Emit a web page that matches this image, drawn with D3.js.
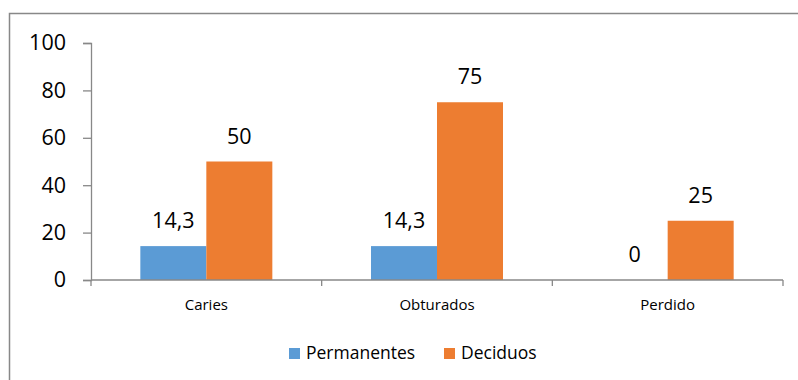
<!DOCTYPE html>
<html>
<head>
<meta charset="utf-8">
<script src="https://cdn.jsdelivr.net/npm/d3@7"></script>
<style>
  html, body { margin: 0; padding: 0; background: #fff; }
  svg { display: block; }
</style>
</head>
<body>
<svg id="chart" width="798" height="380"></svg>
<script>
// Dientes: porcentajes por categoría
const categories = ["Caries", "Obturados", "Perdido"];
const seriesNames = ["Permanentes", "Deciduos"];
const permanentes = [14.3, 14.3, 0];
const deciduos = [50, 75, 25];
const yTicks = [0, 20, 40, 60, 80, 100];

const colors = { Permanentes: "#5B9BD5", Deciduos: "#ED7D31" };
const font = "'Open Sans', 'Liberation Sans', sans-serif";

const svg = d3.select("#chart");

// Outer frame (extends past the right and bottom edges)
svg.append("rect")
  .attr("x", 9.5).attr("y", 13.5)
  .attr("width", 820).attr("height", 400)
  .attr("fill", "#fff").attr("stroke", "#888").attr("stroke-width", 1.5);

const plot = { left: 91, right: 783, top: 43, bottom: 280 };

const x0 = d3.scaleBand().domain(categories).range([plot.left, plot.right]).paddingInner(0).paddingOuter(0);
const x1 = d3.scaleBand().domain(seriesNames).range([0, 132]);
const y = d3.scaleLinear().domain([0, 100]).range([plot.bottom, plot.top]);

const rows = categories.map((c, i) => ({
  cat: c,
  values: [
    { name: "Permanentes", v: permanentes[i] },
    { name: "Deciduos", v: deciduos[i] }
  ]
}));

// Y axis
const yAxis = svg.append("g").attr("transform", `translate(${plot.left},0)`)
  .call(d3.axisLeft(y).tickValues(yTicks).tickSize(8).tickPadding(17).tickFormat(d3.format("d")));
yAxis.select(".domain").attr("stroke", "#888").attr("stroke-width", 1.3);
yAxis.selectAll(".tick line").attr("stroke", "#888").attr("stroke-width", 1.3);
yAxis.selectAll(".tick text").attr("font-family", font).attr("font-size", 21.5).attr("fill", "#000");

// Bars
const groups = svg.append("g").selectAll("g").data(rows).join("g")
  .attr("transform", d => `translate(${x0(d.cat) + x0.bandwidth() / 2 - 66},0)`);

groups.selectAll("rect").data(d => d.values).join("rect")
  .attr("x", d => x1(d.name))
  .attr("y", d => y(d.v))
  .attr("width", x1.bandwidth())
  .attr("height", d => y(0) - y(d.v))
  .attr("fill", d => colors[d.name]);

groups.selectAll("text").data(d => d.values).join("text")
  .attr("x", d => x1(d.name) + x1.bandwidth() / 2)
  .attr("y", d => y(d.v) - 18)
  .attr("text-anchor", "middle")
  .attr("font-family", font).attr("font-size", 21.5).attr("fill", "#000")
  .text(d => String(d.v).replace(".", ","));

// X axis
const xAxis = svg.append("g").attr("transform", `translate(0,${plot.bottom})`);
xAxis.append("line").attr("x1", plot.left).attr("x2", plot.right)
  .attr("stroke", "#888").attr("stroke-width", 1.3);
const bounds = [plot.left].concat(categories.map(c => x0(c) + x0.bandwidth()));
xAxis.selectAll(".xt").data(bounds).join("line")
  .attr("x1", d => d).attr("x2", d => d).attr("y1", 0).attr("y2", 6)
  .attr("stroke", "#888").attr("stroke-width", 1.3);
xAxis.selectAll(".xl").data(categories).join("text")
  .attr("x", d => x0(d) + x0.bandwidth() / 2)
  .attr("y", 30)
  .attr("text-anchor", "middle")
  .attr("font-family", font).attr("font-size", 15).attr("fill", "#000")
  .text(d => d);

// Legend
const legend = svg.append("g").attr("transform", "translate(289,348)");
const lx = [0, 155];
seriesNames.forEach((n, i) => {
  legend.append("rect").attr("x", lx[i]).attr("y", 0).attr("width", 11).attr("height", 11).attr("fill", colors[n]);
  legend.append("text").attr("x", lx[i] + 17).attr("y", 11)
    .attr("font-family", font).attr("font-size", 17.5).attr("fill", "#000").text(n);
});
</script>
</body>
</html>
